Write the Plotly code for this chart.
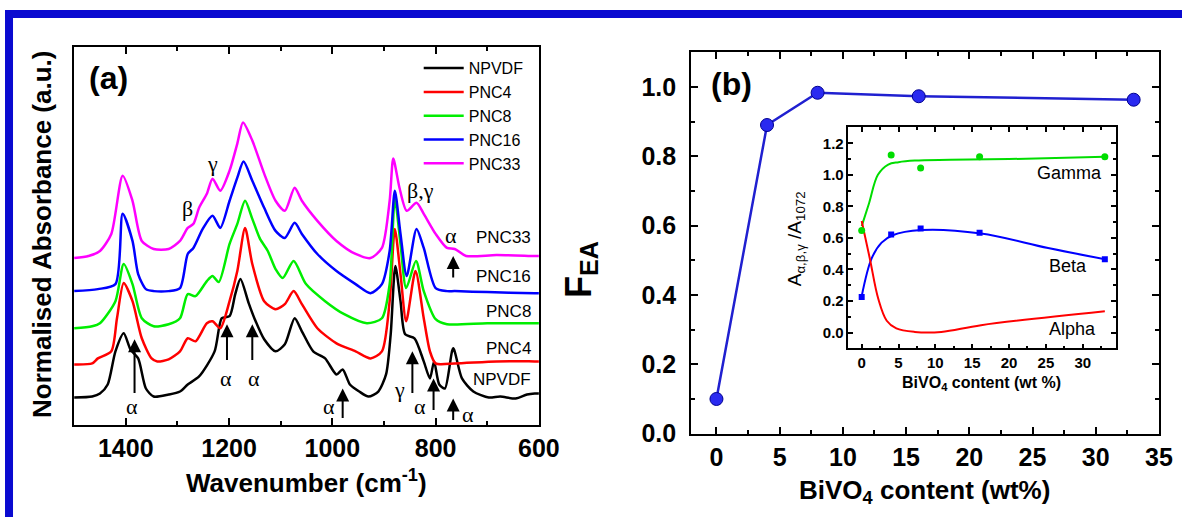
import plotly.graph_objects as go

# design coordinates are in reference pixels (1182 x 517)
W, H = 1182, 517
W_FIG, H_FIG = 1205, 533
def px(x): return x / W
def py(y): return 1 - y / H

FONT = "Arial, Liberation Sans, sans-serif"
SERIF = "Times New Roman, Liberation Serif, serif"

# ---------------- Panel (a): FTIR spectra (offset, arbitrary units) ----------------
wn_npvdf = [1500, 1465, 1450, 1435, 1420, 1404, 1391, 1376, 1361, 1346, 1317, 1295, 1280, 1258, 1228,
            1214, 1199, 1188, 1178, 1162, 1151, 1132, 1110, 1092, 1073, 1059, 1037, 1014, 992, 980,
            966, 948, 930, 911, 896, 887, 878, 868, 859, 841, 823, 811, 803, 793, 782, 766, 749,
            727, 697, 675, 645, 623, 608, 600]
ab_npvdf = [27, 28, 31, 40, 73, 91, 75, 66, 36, 28, 30, 33, 40, 48, 73,
            106, 108, 130, 145, 121, 106, 85, 73, 80, 106, 93, 73, 66, 50, 55,
            40, 33, 28, 33, 50, 90, 158, 123, 90, 86, 63, 46, 63, 40, 36, 76, 46,
            33, 27, 28, 26, 30, 31, 31]

wn_pnc4 = [1500, 1465, 1454, 1428, 1417, 1404, 1387, 1369, 1350, 1339, 1317, 1295, 1280, 1265, 1243,
           1232, 1217, 1199, 1184, 1169, 1155, 1132, 1110, 1092, 1075, 1059, 1029, 992, 955, 926,
           904, 889, 879, 868, 857, 839, 823, 811, 800, 763, 682, 608, 600]
ab_pnc4 = [60, 61, 66, 73, 106, 141, 123, 86, 66, 63, 65, 73, 86, 83, 101,
           103, 96, 123, 153, 196, 160, 123, 115, 120, 133, 120, 96, 81, 73, 66,
           73, 123, 195, 150, 103, 153, 106, 73, 61, 61, 63, 63, 63]

wn_pnc8 = [1500, 1465, 1450, 1420, 1404, 1387, 1369, 1346, 1317, 1295, 1280, 1265, 1243, 1232, 1220,
           1199, 1184, 1169, 1155, 1140, 1125, 1110, 1096, 1075, 1051, 1014, 977, 933, 904, 889,
           879, 868, 857, 838, 823, 800, 778, 700, 608, 600]
ab_pnc8 = [96, 98, 101, 123, 160, 140, 106, 98, 100, 106, 130, 128, 143, 148, 142,
           180, 200, 223, 205, 185, 173, 155, 146, 163, 140, 123, 110, 101, 106, 140,
           225, 180, 136, 163, 133, 105, 100, 101, 101, 101]

wn_pnc16 = [1500, 1454, 1420, 1406, 1387, 1376, 1361, 1346, 1317, 1295, 1280, 1269, 1251, 1232, 1217,
            1199, 1184, 1172, 1155, 1132, 1110, 1092, 1073, 1059, 1029, 992, 955, 926, 904, 889,
            879, 868, 856, 837, 823, 800, 778, 763, 700, 608, 600]
ab_pnc16 = [133, 135, 140, 210, 183, 150, 135, 133, 133, 136, 170, 176, 195, 208, 196,
            223, 246, 262, 243, 216, 193, 186, 201, 190, 170, 153, 140, 131, 140, 173,
            233, 190, 148, 195, 176, 136, 133, 133, 132, 131, 131]

wn_pnc33 = [1500, 1472, 1450, 1428, 1406, 1387, 1369, 1346, 1317, 1295, 1280, 1269, 1258, 1243, 1232,
            1217, 1199, 1184, 1173, 1155, 1132, 1110, 1092, 1073, 1059, 1029, 992, 955, 926, 904,
            889, 882, 870, 856, 837, 823, 800, 778, 763, 741, 682, 608, 600]
ab_pnc33 = [166, 168, 173, 190, 248, 223, 183, 175, 175, 183, 196, 200, 216, 230, 245,
            233, 253, 280, 301, 283, 250, 223, 213, 236, 223, 203, 183, 170, 166, 176,
            223, 265, 236, 213, 221, 210, 190, 176, 175, 168, 169, 168, 168]

series_names = ["NPVDF", "PNC4", "PNC8", "PNC16", "PNC33"]
series_colors = ["#000000", "#ff0000", "#00ee00", "#0000ff", "#ff00ff"]
series_wn = [wn_npvdf, wn_pnc4, wn_pnc8, wn_pnc16, wn_pnc33]
series_ab = [ab_npvdf, ab_pnc4, ab_pnc8, ab_pnc16, ab_pnc33]

# curve labels on the right of panel (a)
curve_label_text = ["PNC33", "PNC16", "PNC8", "PNC4", "NPVDF"]
curve_label_y = [186, 148, 113, 76, 45]

# ---------------- Panel (b): F_EA vs BiVO4 content ----------------
bivo4 = [0, 4, 8, 16, 33]
f_ea = [0.10, 0.89, 0.983, 0.973, 0.963]

# inset: band area ratios
ratio_gamma = [0.647, 1.125, 1.043, 1.114, 1.114]
ratio_beta = [0.225, 0.621, 0.66, 0.632, 0.465]
ratio_alpha = [0.696, 0.049, 0.009, 0.049, 0.135]
# fitted guide curves
fit_gamma_x = [0, 1, 2.2, 3.6, 5, 7.2, 12, 20, 33]
fit_gamma_y = [0.675, 0.82, 1.0, 1.065, 1.08, 1.09, 1.095, 1.10, 1.114]
fit_beta_x = [0, 1.35, 2.7, 4.2, 8.1, 16.2, 25.3, 33]
fit_beta_y = [0.23, 0.47, 0.57, 0.617, 0.65, 0.628, 0.536, 0.465]
fit_alpha_x = [0, 1.1, 2.25, 3.4, 4.7, 7.2, 10.8, 16.2, 33]
fit_alpha_y = [0.707, 0.47, 0.214, 0.075, 0.026, 0.004, 0.004, 0.047, 0.135]

fig = go.Figure()

for name, col, wn, ab in zip(series_names, series_colors, series_wn, series_ab):
    fig.add_trace(go.Scatter(x=wn, y=ab, mode="lines", name=name,
                             line=dict(color=col, width=2.5, shape="spline", smoothing=0.7),
                             xaxis="x", yaxis="y", showlegend=True))

fig.add_trace(go.Scatter(x=bivo4, y=f_ea, mode="lines+markers", showlegend=False,
                         line=dict(color="#2020d0", width=2.5),
                         marker=dict(size=13, color="#2a2af0", line=dict(color="#000090", width=1)),
                         xaxis="x2", yaxis="y2"))

for fx, fy, col in [(fit_gamma_x, fit_gamma_y, "#00dd00"), (fit_beta_x, fit_beta_y, "#0000ff"),
                    (fit_alpha_x, fit_alpha_y, "#ff0000")]:
    fig.add_trace(go.Scatter(x=fx, y=fy, mode="lines", showlegend=False,
                             line=dict(color=col, width=2, shape="spline", smoothing=1.0),
                             xaxis="x3", yaxis="y3"))
fig.add_trace(go.Scatter(x=bivo4, y=ratio_gamma, mode="markers", showlegend=False,
                         marker=dict(size=7, color="#00dd00", symbol="circle"),
                         xaxis="x3", yaxis="y3"))
fig.add_trace(go.Scatter(x=bivo4, y=ratio_beta, mode="markers", showlegend=False,
                         marker=dict(size=6, color="#0000ff", symbol="square"),
                         xaxis="x3", yaxis="y3"))
fig.add_trace(go.Scatter(x=bivo4, y=ratio_alpha, mode="markers", showlegend=False,
                         marker=dict(size=7, color="rgba(0,0,0,0)", symbol="circle-open",
                                     line=dict(color="#ff8080", width=1.5)),
                         xaxis="x3", yaxis="y3"))

axis_common = dict(showline=True, linecolor="black", linewidth=2, mirror="ticks",
                   showgrid=False, zeroline=False, ticks="inside", tickcolor="black",
                   tickwidth=2)

fig.update_layout(
    width=W_FIG, height=H_FIG, margin=dict(l=0, r=0, t=0, b=0),
    paper_bgcolor="white", plot_bgcolor="rgba(0,0,0,0)",
    font=dict(family=FONT, color="black"),
    xaxis=dict(domain=[px(74), px(538)], anchor="y", range=[1500, 600],
               tickvals=[600, 800, 1000, 1200, 1400], ticklen=7,
               tickfont=dict(size=25, weight="bold"),
               minor=dict(tickvals=[700, 900, 1100, 1300], ticks="inside", ticklen=4,
                          tickwidth=2, tickcolor="black"),
               **axis_common),
    yaxis=dict(domain=[py(423), py(47)], anchor="x", range=[0, 376],
               showticklabels=False, showline=True, linecolor="black", linewidth=2,
               mirror=True, showgrid=False, zeroline=False, ticks=""),
    xaxis2=dict(domain=[px(690), px(1157)], anchor="y2", range=[-2, 35], tick0=0, dtick=5,
                ticklen=7, tickfont=dict(size=25, weight="bold"),
                minor=dict(dtick=2.5, tick0=0, ticks="inside", ticklen=4, tickwidth=2,
                           tickcolor="black"),
                **axis_common),
    yaxis2=dict(domain=[py(432), py(52)], anchor="x2", range=[0, 1.1], tick0=0, dtick=0.2,
                tickformat=".1f", ticklen=7, ticklabelstandoff=8,
                tickfont=dict(size=25, weight="bold"),
                minor=dict(dtick=0.1, tick0=0, ticks="inside", ticklen=4, tickwidth=2,
                           tickcolor="black"),
                **axis_common),
    xaxis3=dict(domain=[px(847), px(1114)], anchor="y3", range=[-1.8, 34.5], tick0=0, dtick=5,
                ticklen=5, tickfont=dict(size=15, weight="bold"),
                minor=dict(dtick=2.5, tick0=0, ticks="inside", ticklen=3, tickwidth=1.5,
                           tickcolor="black"),
                **{**axis_common, "linewidth": 1.5, "tickwidth": 1.5}),
    yaxis3=dict(domain=[py(347), py(127)], anchor="x3", range=[-0.1, 1.3], tick0=0, dtick=0.2,
                tickformat=".1f", ticklen=5, tickfont=dict(size=15, weight="bold"),
                minor=dict(dtick=0.1, tick0=0, ticks="inside", ticklen=3, tickwidth=1.5,
                           tickcolor="black"),
                **{**axis_common, "linewidth": 1.5, "tickwidth": 1.5}),
    legend=dict(x=px(418), y=py(51), xanchor="left", yanchor="top",
                bgcolor="rgba(0,0,0,0)", font=dict(size=16, family=FONT),
                traceorder="normal", tracegroupgap=0, itemwidth=40),
)

ann = []
def add_text(x, y, text, size, bold=False, family=FONT, angle=0, xanchor="center", xref="paper", yref="paper"):
    ann.append(dict(x=x, y=y, xref=xref, yref=yref, text=text, showarrow=False,
                    textangle=angle, xanchor=xanchor, yanchor="middle",
                    font=dict(size=size, family=family, color="black",
                              weight="bold" if bold else "normal")))

# titles
add_text(px(306), py(480), "Wavenumber (cm<sup>-1</sup>)", 26, bold=True)
add_text(px(42), py(234), "Normalised Absorbance (a.u.)", 26, bold=True, angle=-90)
add_text(px(923), py(490), "BiVO<sub>4</sub> content (wt%)", 26, bold=True)
add_text(px(580), py(268), "F<sub>EA</sub>", 36, bold=True, angle=-90)
add_text(px(108), py(78), "(a)", 32, bold=True)
add_text(px(730), py(84), "(b)", 32, bold=True)
add_text(px(980), py(382), "BiVO<sub>4</sub> content (wt %)", 16, bold=True)
add_text(px(795), py(238), "A<sub>α,β,γ</sub> /A<sub>1072</sub>", 19, angle=-90)
add_text(28.2, 1.01, "Gamma", 18, xref="x3", yref="y3")
add_text(28.0, 0.42, "Beta", 18, xref="x3", yref="y3")
add_text(28.6, 0.02, "Alpha", 18, xref="x3", yref="y3")

# curve labels panel (a)
for t, yy in zip(curve_label_text, curve_label_y):
    add_text(612, yy, t, 17, xref="x", yref="y", xanchor="right")

# Greek band labels
greek = [(1387, 18, "α"), (1206, 46, "α"), (1151, 46, "α"), (1007, 18, "α"), (870, 35, "γ"),
         (830, 18, "α"), (738, 10, "α"), (771, 188, "α"), (1280, 215, "β"), (1232, 260, "γ"),
         (830, 233, "β,γ")]
for gx, gy, gt in greek:
    add_text(gx, gy, gt, 22, family=SERIF, xref="x", yref="y")

# arrows (tail -> head)
arrows = [(1383, 30, 85), (1204, 63, 100), (1155, 63, 100), (980, 5, 36), (845, 30, 73),
          (804, 13, 46), (766, 3, 26), (766, 145, 168)]
for axx, tail, head in arrows:
    ann.append(dict(x=axx, y=head, ax=axx, ay=tail, xref="x", yref="y", axref="x", ayref="y",
                    text="", showarrow=True, arrowhead=2, arrowsize=1.3, arrowwidth=2,
                    arrowcolor="black"))

fig.update_layout(annotations=ann)

# blue frame (left and top edges; kept inside the canvas)
frame_col = "#0a0ad0"
fig.add_shape(type="line", xref="paper", yref="paper", x0=px(9), x1=px(9), y0=0, y1=py(10),
              line=dict(color=frame_col, width=8), layer="above")
fig.add_shape(type="line", xref="paper", yref="paper", x0=px(5), x1=1, y0=py(14), y1=py(14),
              line=dict(color=frame_col, width=8), layer="above")

fig.write_html("out.html")
